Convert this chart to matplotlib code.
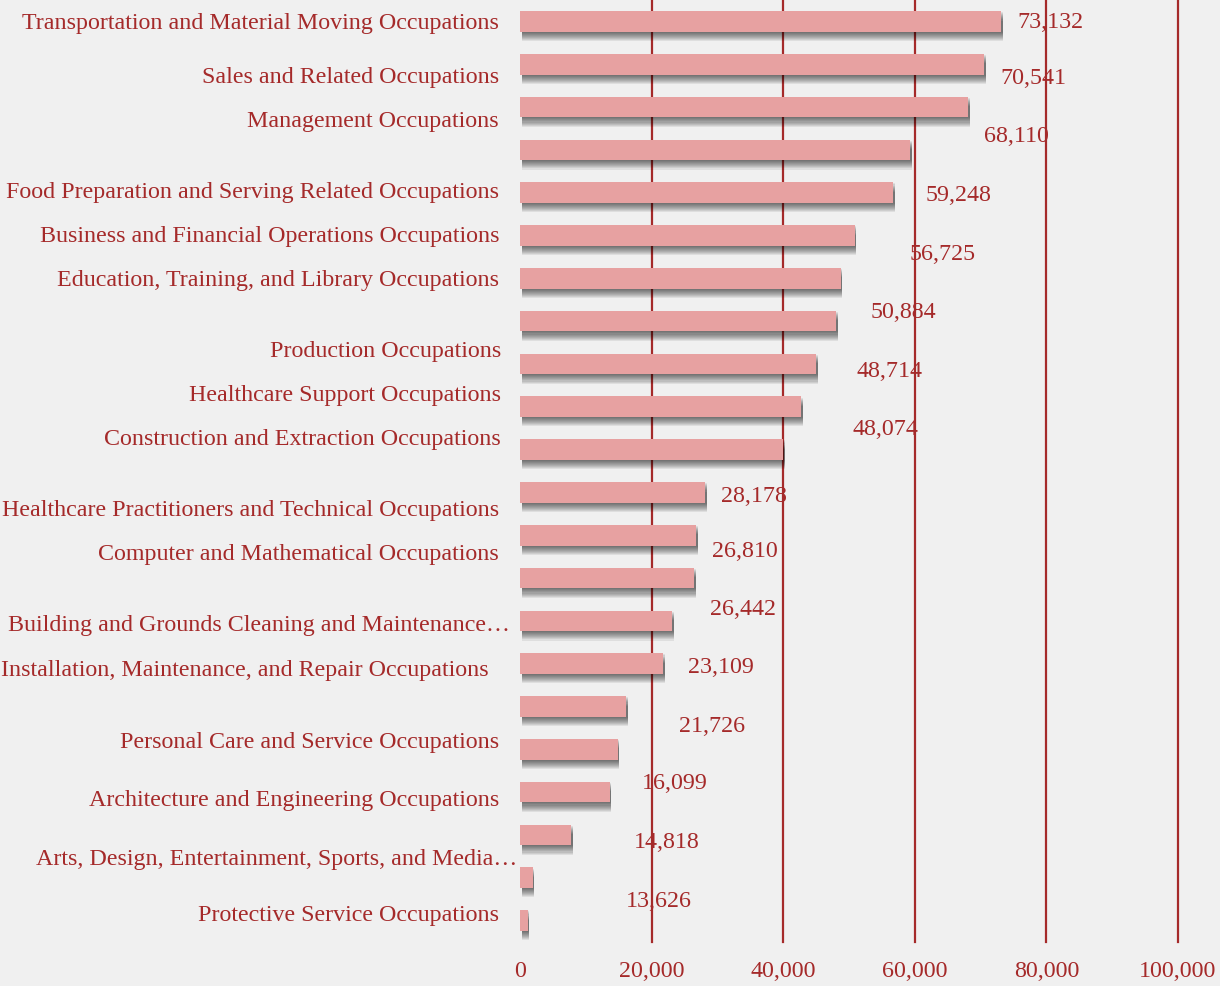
import matplotlib
matplotlib.use("Agg")
import matplotlib.pyplot as plt
import matplotlib.patheffects as pe
import matplotlib.transforms as mtransforms

# ---------------- data ----------------
bar_values = [73132, 70541, 68110, 59248, 56725, 50884, 48714, 48074,
              45000, 42700, 39950, 28178, 26810, 26442, 23109, 21726,
              16099, 14818, 13626, 7750, 1950, 1170]

category_labels = [
    "Transportation and Material Moving Occupations",
    "Sales and Related Occupations",
    "Management Occupations",
    "Food Preparation and Serving Related Occupations",
    "Business and Financial Operations Occupations",
    "Education, Training, and Library Occupations",
    "Production Occupations",
    "Healthcare Support Occupations",
    "Construction and Extraction Occupations",
    "Healthcare Practitioners and Technical Occupations",
    "Computer and Mathematical Occupations",
    "Building and Grounds Cleaning and Maintenance\u2026",
    "Installation, Maintenance, and Repair Occupations",
    "Personal Care and Service Occupations",
    "Architecture and Engineering Occupations",
    "Arts, Design, Entertainment, Sports, and Media\u2026",
    "Protective Service Occupations",
]

# bars that carry a value label
labeled_bars = [0, 1, 2, 3, 4, 5, 6, 7, 11, 12, 13, 14, 15, 16, 17, 18]

x_ticks = [0, 20000, 40000, 60000, 80000, 100000]

# ---------------- layout ----------------
cat_label_y = [-0.01, 1.25, 2.28, 3.94, 4.96, 5.99, 7.65, 8.68, 9.71,
               11.36, 12.39, 14.05, 15.10, 16.78, 18.14, 19.52, 20.82]
cat_label_dx = [-21, -21, -21, -21, -21, -21, -19, -19, -19,
                -21, -21, -10, -31, -21, -21, -3, -21]
value_label_y = [-0.03, 1.28, 2.65, 4.01, 5.39, 6.75, 8.13, 9.48,
                 11.05, 12.33, 13.68, 15.04, 16.42, 17.76, 19.12, 20.50]

TEXT = "#a52a2a"
BAR = "#e7a1a1"
BG = "#f0f0f0"
FONT = "Liberation Serif"
FS = 17.3

fig = plt.figure(figsize=(12.2, 9.86), dpi=100, facecolor=BG)
ax = fig.add_axes([520 / 1220, 44 / 986, 658 / 1220, 942 / 986])
ax.set_facecolor(BG)

n = len(bar_values)
ys = list(range(n))
ax.set_xlim(0, 100000)
ax.set_ylim(n - 0.5, -0.5)

for t in x_ticks[1:]:
    ax.axvline(t, color=TEXT, lw=1.6, zorder=1, clip_on=False)

shadow = [pe.SimplePatchShadow(offset=(1.2, -0.75 * k), shadow_rgbFace="k",
                               alpha=0.075) for k in range(9, 0, -1)]
shadow.append(pe.Normal())
bars = ax.barh(ys, bar_values, height=0.48, color=BAR, zorder=3)
for b in bars:
    b.set_path_effects(shadow)

# category labels
for lab, y, dx in zip(category_labels, cat_label_y, cat_label_dx):
    tr = mtransforms.offset_copy(ax.transData, fig=fig, x=dx, y=-2.5, units="dots")
    ax.text(0, y, lab, transform=tr, ha="right", va="center",
            fontsize=FS, color=TEXT, family=FONT, clip_on=False)

# value labels
for i, y in zip(labeled_bars, value_label_y):
    v = bar_values[i]
    tr = mtransforms.offset_copy(ax.transData, fig=fig, x=16, y=-2, units="dots")
    ax.text(v, y, f"{v:,}", transform=tr, ha="left", va="center",
            fontsize=FS, color=TEXT, family=FONT, clip_on=False, zorder=5)

ax.set_xticks(x_ticks)
ax.set_xticklabels([f"{t:,}" for t in x_ticks], fontsize=FS, color=TEXT,
                   family=FONT)
ax.set_yticks([])
ax.tick_params(axis="x", length=0, pad=13.5)
for s in ax.spines.values():
    s.set_visible(False)

fig.savefig("out.png", dpi=100, facecolor=BG)
